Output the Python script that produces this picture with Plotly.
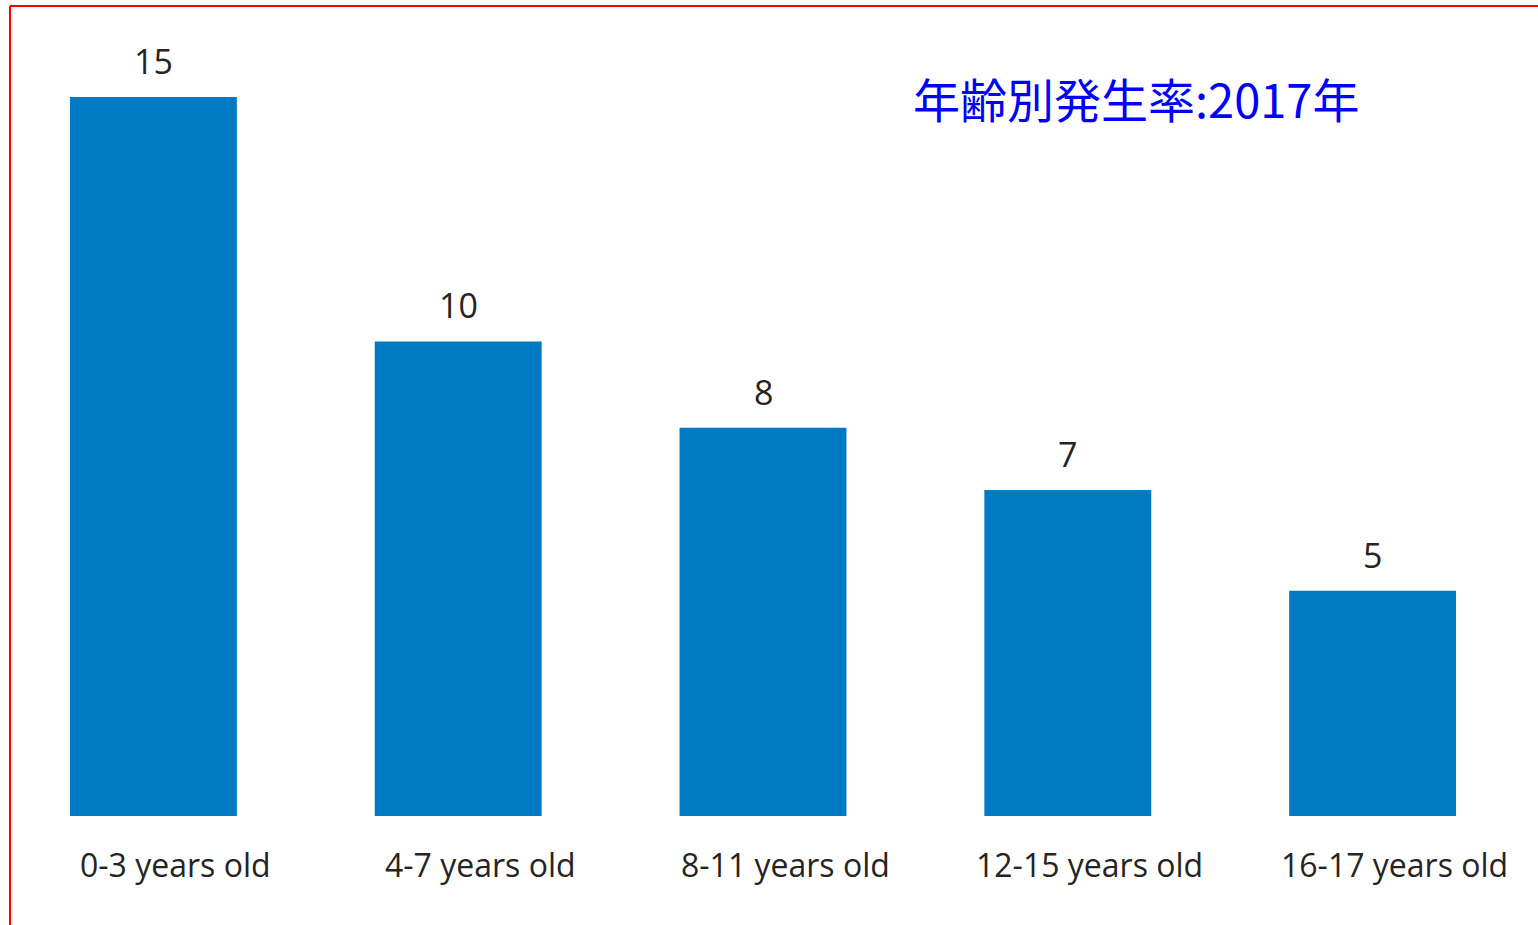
import plotly.graph_objects as go

categories = ["0-3 years old", "4-7 years old", "8-11 years old", "12-15 years old", "16-17 years old"]
values = [15.0, 9.9, 8.1, 6.8, 4.7]
value_labels = ["15", "10", "8", "7", "5"]
title_text = "年齢別発生率:2017年"

W, H = 1538, 925
ml, mr, mt, mb = 1, 13, 40, 109
plot_h = H - mt - mb
ymax = 15 * plot_h / 719.0

fig = go.Figure()
fig.add_trace(go.Bar(
    x=categories, y=values,
    marker=dict(color="#007BC3", line=dict(width=0)),
    hoverinfo="skip",
))

font_main = "Open Sans, Noto Sans, sans-serif"
for c, v, t in zip(categories, values, value_labels):
    fig.add_annotation(x=c, y=v, text=t, showarrow=False, yanchor="bottom",
                       yshift=11, font=dict(size=34, color="#252423", family=font_main))
    fig.add_annotation(x=c, y=0, text=c, showarrow=False, yanchor="middle",
                       yshift=-48, xshift=22,
                       font=dict(size=32, color="#252423", family=font_main))

pw = W - ml - mr
def px_x(px):
    return (px - ml) / pw
def px_y(py):
    return (H - mb - py) / plot_h

fig.add_annotation(x=px_x(1136), y=px_y(98), xref="paper", yref="paper", text=title_text,
                   showarrow=False, xanchor="center", yanchor="middle",
                   font=dict(size=47, color="#0000FF", family="Noto Sans CJK JP"))

fig.add_shape(type="line", xref="paper", yref="paper",
              x0=px_x(10), x1=px_x(1545), y0=px_y(6), y1=px_y(6),
              line=dict(color="#FF0000", width=2))
fig.add_shape(type="line", xref="paper", yref="paper",
              x0=px_x(10), x1=px_x(10), y0=px_y(6), y1=px_y(935),
              line=dict(color="#FF0000", width=2))

fig.update_layout(
    width=W, height=H,
    margin=dict(l=ml, r=mr, t=mt, b=mb),
    paper_bgcolor="white", plot_bgcolor="white",
    bargap=1 - 167 / 305.0,
    showlegend=False,
    xaxis=dict(showticklabels=False, showgrid=False, zeroline=False, showline=False,
               ticks="", range=[-0.5, 4.5]),
    yaxis=dict(visible=False, range=[0, ymax], showgrid=False, zeroline=False),
)

fig.write_html("out.html", config={"displayModeBar": False})
